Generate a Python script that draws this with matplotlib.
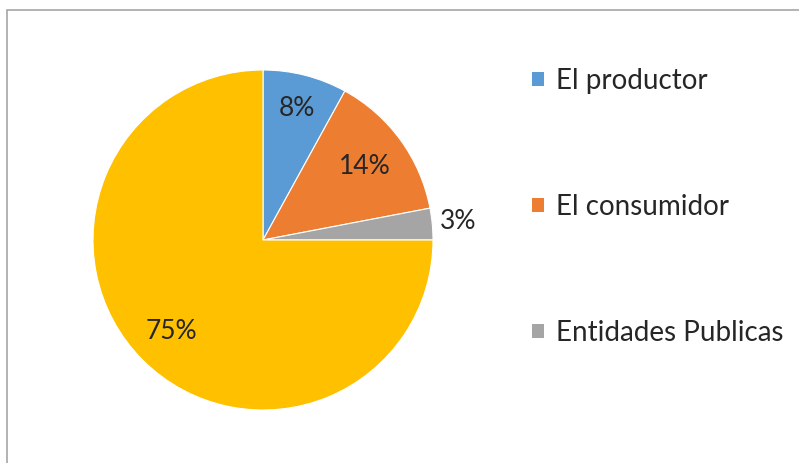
import matplotlib.pyplot as plt
from matplotlib.patches import Rectangle, Patch
import numpy as np

labels = ['El productor', 'El consumidor', 'Entidades Publicas', 'Otros']
shares = [8, 14, 3, 75]
colors = ['#5B9BD5', '#ED7D31', '#A5A5A5', '#FFC000']
# radial position of each percentage label, as a fraction of the radius
label_dist = [0.80, 0.74, 1.15, 0.76]

plt.rcParams['font.family'] = ['Lato', 'DejaVu Sans']

fig = plt.figure(figsize=(7.99, 4.63), dpi=100)
ax = fig.add_axes([(263 - 170) / 799, (463 - 240 - 170) / 463, 340 / 799, 340 / 463])

wedges, _ = ax.pie(shares, colors=colors, startangle=90, counterclock=False,
                   wedgeprops=dict(edgecolor='white', linewidth=0.8))
ax.set_xlim(-1, 1)
ax.set_ylim(-1, 1)

for w, v, d in zip(wedges, shares, label_dist):
    ang = np.deg2rad((w.theta1 + w.theta2) / 2)
    ax.text(d * np.cos(ang), d * np.sin(ang), f'{v}%', ha='center', va='center',
            fontsize=19, color='#262626')

handles = [Patch(facecolor=c, edgecolor='none') for c in colors[:3]]
fig.legend(handles, labels[:3], loc='upper left', bbox_to_anchor=(507 / 799, 1 - 43 / 463),
           frameon=False, fontsize=20, handlelength=0.43, handleheight=0.43,
           handletextpad=0.43, labelspacing=3.6, labelcolor='#262626')

# chart area outline, running off the right and bottom edges
fig.patches.append(Rectangle((7 / 799, -0.1), 1.2, 1 - 10 / 463 + 0.1, transform=fig.transFigure,
                             fill=False, edgecolor='#A6A6A6', linewidth=1.2))

fig.savefig('out.png', dpi=100)
